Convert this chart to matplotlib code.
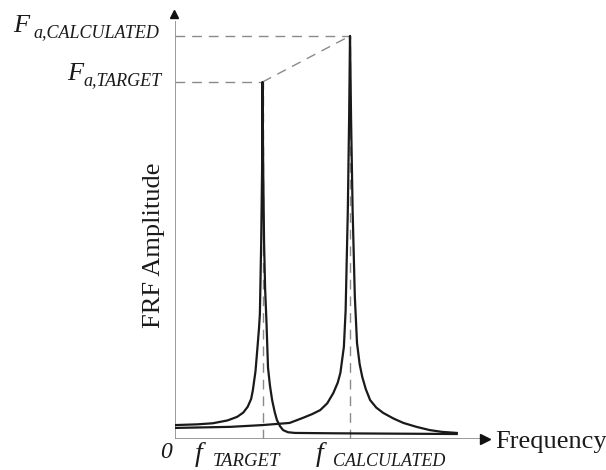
import matplotlib.pyplot as plt

# curve points (frequency, amplitude); f_target = 1, target peak = 1
target_freq = [0.0, 0.25, 0.43, 0.60, 0.71, 0.78, 0.83, 0.87, 0.89, 0.92, 0.94, 0.96, 0.97,
               0.985, 0.995, 1.0, 1.008, 1.018, 1.03, 1.045, 1.063, 1.085, 1.11, 1.14,
               1.165, 1.2, 1.235, 1.29, 1.37, 1.8, 2.5, 3.22]
target_amp = [0.039, 0.041, 0.044, 0.052, 0.062, 0.074, 0.090, 0.112, 0.137, 0.19, 0.249, 0.31,
              0.35, 0.55, 0.75, 1.0, 0.75, 0.55, 0.42, 0.33, 0.20, 0.15, 0.109, 0.075,
              0.053, 0.036, 0.025, 0.019, 0.017, 0.016, 0.015, 0.014]

calc_freq = [0.0, 0.63, 1.0, 1.31, 1.46, 1.57, 1.66, 1.74, 1.81, 1.86, 1.89, 1.93, 1.95,
             1.975, 1.99, 2.0, 2.012, 2.03, 2.055, 2.08, 2.11, 2.14, 2.18, 2.23, 2.3,
             2.38, 2.5, 2.61, 2.76, 2.91, 3.05, 3.22]
calc_amp = [0.031, 0.034, 0.039, 0.045, 0.059, 0.070, 0.081, 0.100, 0.129, 0.158, 0.185,
            0.258, 0.36, 0.64, 0.9, 1.129, 0.9, 0.64, 0.40, 0.269, 0.21, 0.174, 0.14, 0.109,
            0.088, 0.073, 0.057, 0.045, 0.034, 0.025, 0.020, 0.017]

f_target, f_calc = 1.0, 2.0
a_target, a_calc = 1.0, 1.129

serif = 'Liberation Serif'
grey = '#8a8a8a'
dash = (0, (7, 5))

fig = plt.figure(figsize=(6.06, 4.70), dpi=100)
xmax, ymax = 3.6, 1.207
ax = fig.add_axes([175 / 606, 31 / 470, xmax * 87.5 / 606, ymax * 357 / 470])
ax.set_xlim(0, xmax)
ax.set_ylim(0, ymax)
ax.axis('off')

# axes with arrow heads
ax.plot([0, 3.52], [0, 0], color=grey, lw=1.2, solid_capstyle='butt')
ax.plot([0, 0], [0, 1.17], color=grey, lw=1.2, solid_capstyle='butt')
ax.plot([3.545], [0], marker='>', color='#111111', ms=7, clip_on=False)
ax.plot([-0.01], [1.19], marker='^', color='#111111', ms=6, clip_on=False)

# dashed guides
ax.plot([0, f_calc], [a_calc, a_calc], color=grey, lw=1, ls=dash)
ax.plot([0, f_target], [a_target, a_target], color=grey, lw=1, ls=dash)
ax.plot([f_target, f_calc], [a_target, a_calc], color=grey, lw=1, ls=dash)
ax.plot([f_target, f_target], [0, a_target], color=grey, lw=1, ls=dash)
ax.plot([f_calc, f_calc], [0, a_calc], color=grey, lw=1, ls=dash)

# FRF curves
ax.plot(target_freq, target_amp, color='#1a1a1a', lw=1.6, solid_joinstyle='round')
ax.plot(calc_freq, calc_amp, color='#1a1a1a', lw=1.6, solid_joinstyle='round')

# labels (pixel positions from top-left)
def ftext(px, py, s, size, style='italic', **kw):
    fig.text(px / 606, 1 - py / 470, s, fontsize=size, family=serif, style=style,
             color='#1a1a1a', va='baseline', **kw)

ftext(13, 32, 'F', 19)
ftext(33, 37, 'a,CALCULATED', 13)
ftext(67, 80, 'F', 19)
ftext(83, 85, 'a,TARGET', 13)

ftext(166, 458, '0', 17, ha='center')
ftext(195, 461, 'f', 20)
ftext(213, 466, 'TARGET', 13.5)
ftext(316, 461, 'f', 20)
ftext(333, 466, 'CALCULATED', 13)
ftext(495, 448, 'Frequency', 19, style='normal')

fig.text(154 / 606, 1 - 245 / 470, 'FRF Amplitude', fontsize=19, family=serif,
         rotation=90, ha='center', va='center', color='#1a1a1a')

fig.savefig('out.png', dpi=100)
